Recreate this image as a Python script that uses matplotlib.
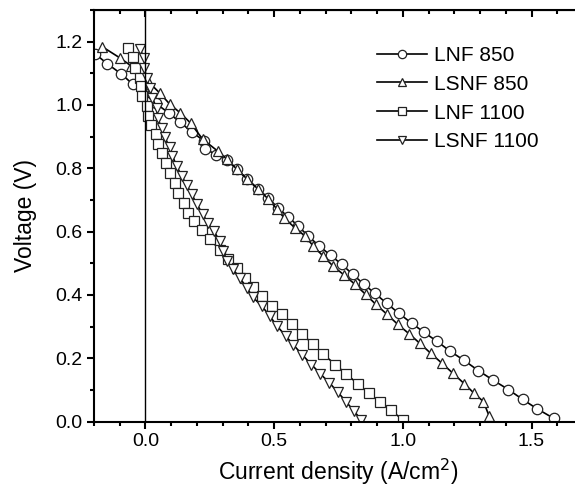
import matplotlib
matplotlib.use("Agg")
import matplotlib.pyplot as plt
from matplotlib.ticker import MultipleLocator

plt.rcParams['font.family'] = ['Liberation Sans', 'DejaVu Sans']

# LNF 850 (circles)
lnf850_j = [-0.195, -0.148, -0.094, -0.050, -0.010, 0.040, 0.090, 0.135, 0.180, 0.228,
            0.232, 0.275, 0.316, 0.355, 0.395, 0.438, 0.477, 0.516, 0.555, 0.594,
            0.633, 0.676, 0.719, 0.762, 0.805, 0.848, 0.891, 0.938, 0.984, 1.035,
            1.082, 1.133, 1.184, 1.238, 1.293, 1.352, 1.410, 1.465, 1.520, 1.586]
lnf850_v = [1.161, 1.130, 1.098, 1.066, 1.040, 1.005, 0.975, 0.945, 0.915, 0.886,
            0.861, 0.843, 0.826, 0.797, 0.766, 0.734, 0.706, 0.674, 0.646, 0.617,
            0.585, 0.554, 0.525, 0.497, 0.465, 0.434, 0.405, 0.373, 0.342, 0.310,
            0.282, 0.253, 0.222, 0.193, 0.161, 0.130, 0.101, 0.070, 0.041, 0.010]

# LSNF 850 (up triangles)
lsnf850_j = [-0.168, -0.100, -0.055, 0.008, 0.055, 0.094, 0.135, 0.175, 0.222, 0.281,
             0.318, 0.355, 0.395, 0.438, 0.477, 0.510, 0.540, 0.582, 0.621, 0.652,
             0.691, 0.730, 0.773, 0.813, 0.855, 0.895, 0.938, 0.980, 1.023, 1.066,
             1.109, 1.152, 1.195, 1.238, 1.277, 1.313, 1.336]
lsnf850_v = [1.184, 1.149, 1.123, 1.076, 1.038, 1.003, 0.975, 0.943, 0.892, 0.854,
             0.828, 0.797, 0.766, 0.734, 0.703, 0.672, 0.642, 0.611, 0.585, 0.554,
             0.522, 0.490, 0.462, 0.434, 0.402, 0.370, 0.339, 0.307, 0.278, 0.247,
             0.215, 0.184, 0.152, 0.120, 0.089, 0.063, 0.016]

# LNF 1100 (squares)
lnf1100_j = [-0.066, -0.047, -0.040, -0.023, -0.016, -0.012, 0.004, 0.008, 0.023, 0.039,
             0.047, 0.063, 0.078, 0.094, 0.113, 0.125, 0.148, 0.164, 0.190, 0.219,
             0.250, 0.289, 0.320, 0.355, 0.387, 0.418, 0.453, 0.492, 0.531, 0.570,
             0.609, 0.652, 0.691, 0.738, 0.781, 0.824, 0.867, 0.910, 0.953, 1.000]
lnf1100_v = [1.180, 1.152, 1.117, 1.085, 1.060, 1.028, 0.997, 0.965, 0.937, 0.908,
             0.877, 0.848, 0.816, 0.785, 0.753, 0.722, 0.690, 0.658, 0.633, 0.606,
             0.576, 0.542, 0.512, 0.484, 0.453, 0.424, 0.396, 0.364, 0.339, 0.307,
             0.275, 0.244, 0.212, 0.180, 0.149, 0.120, 0.089, 0.063, 0.035, 0.006]

# LSNF 1100 (down triangles)
lsnf1100_j = [-0.023, -0.004, -0.004, 0.004, 0.016, 0.027, 0.043, 0.047, 0.063, 0.074,
              0.094, 0.105, 0.121, 0.141, 0.160, 0.180, 0.199, 0.223, 0.242, 0.266,
              0.289, 0.303, 0.316, 0.340, 0.367, 0.395, 0.418, 0.453, 0.484, 0.512,
              0.545, 0.575, 0.610, 0.645, 0.680, 0.715, 0.748, 0.780, 0.810, 0.838]
lsnf1100_v = [1.177, 1.149, 1.117, 1.085, 1.054, 1.022, 0.990, 0.959, 0.927, 0.899,
              0.867, 0.839, 0.807, 0.775, 0.747, 0.718, 0.687, 0.655, 0.627, 0.601,
              0.570, 0.538, 0.506, 0.481, 0.453, 0.421, 0.392, 0.364, 0.332, 0.301,
              0.270, 0.242, 0.210, 0.180, 0.150, 0.122, 0.092, 0.062, 0.033, 0.006]

series = [
    (lnf850_j, lnf850_v, 'o', 'LNF 850'),
    (lsnf850_j, lsnf850_v, '^', 'LSNF 850'),
    (lnf1100_j, lnf1100_v, 's', 'LNF 1100'),
    (lsnf1100_j, lsnf1100_v, 'v', 'LSNF 1100'),
]

fig = plt.figure(figsize=(5.75, 4.9), dpi=100)
ax = fig.add_axes([94 / 575, 68.5 / 490, 489 / 575, 411.5 / 490])

for j, v, m, lab in series:
    ax.plot(j, v, color='black', lw=1.2, marker=m, markersize=7.5,
            markerfacecolor='white', markeredgecolor='#222222',
            markeredgewidth=0.9, label=lab)

ax.axvline(0, color='black', lw=1.0)

ax.set_xlim(-0.2, 1.7)
ax.set_ylim(0, 1.3)
ax.xaxis.set_major_locator(MultipleLocator(0.5))
ax.xaxis.set_minor_locator(MultipleLocator(0.1))
ax.yaxis.set_major_locator(MultipleLocator(0.2))
ax.yaxis.set_minor_locator(MultipleLocator(0.1))
ax.xaxis.set_major_formatter(plt.FormatStrFormatter('%.1f'))
ax.yaxis.set_major_formatter(plt.FormatStrFormatter('%.1f'))

for s in ax.spines.values():
    s.set_linewidth(1.5)
ax.tick_params(which='both', direction='out', width=1.5, labelsize=14,
               top=False, right=False)
ax.tick_params(which='major', length=5)
ax.tick_params(which='minor', length=3)

# mirrored ticks pointing inward on top and right
sec_x = ax.secondary_xaxis('top')
sec_x.xaxis.set_major_locator(MultipleLocator(0.5))
sec_x.xaxis.set_minor_locator(MultipleLocator(0.1))
sec_x.tick_params(which='both', direction='in', width=1.5, labeltop=False)
sec_x.tick_params(which='major', length=5)
sec_x.tick_params(which='minor', length=3)
sec_y = ax.secondary_yaxis('right')
sec_y.yaxis.set_major_locator(MultipleLocator(0.2))
sec_y.yaxis.set_minor_locator(MultipleLocator(0.1))
sec_y.tick_params(which='both', direction='in', width=1.5, labelright=False)
sec_y.tick_params(which='major', length=5)
sec_y.tick_params(which='minor', length=3)

ax.set_xlabel('Current density (A/cm$^2$)', fontsize=16.5, labelpad=5)
ax.set_ylabel('Voltage (V)', fontsize=16.5, labelpad=13)

ax.legend(loc='upper left', bbox_to_anchor=(0.557, 0.938), frameon=False,
          fontsize=15, borderpad=0, handlelength=2.4, handletextpad=0.34,
          labelspacing=0.47, markerscale=0.8)

fig.savefig('out.png', dpi=100)
